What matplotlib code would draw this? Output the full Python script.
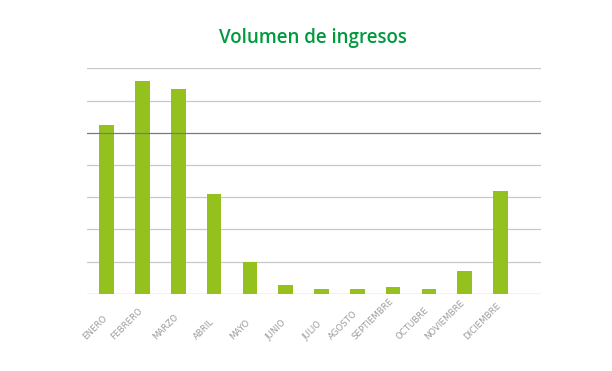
import matplotlib
matplotlib.use("Agg")
import matplotlib.pyplot as plt
import matplotlib.transforms as mtransforms

months = ["ENERO", "FEBRERO", "MARZO", "ABRIL", "MAYO", "JUNIO", "JULIO",
          "AGOSTO", "SEPTIEMBRE", "OCTUBRE", "NOVIEMBRE", "DICIEMBRE"]
values = [5.23, 6.60, 6.36, 3.10, 0.975, 0.28, 0.146, 0.146, 0.21, 0.146, 0.70, 3.18]
grid_levels = [1, 2, 3, 4, 6, 7]
ref_level = 5
title = "Volumen de ingresos"

fig = plt.figure(figsize=(6.12, 3.71), dpi=100)
W, H = 612, 371
ax_l, ax_r, ax_t, ax_b = 87, 541, 68.3, 293.7
ax = fig.add_axes([ax_l / W, 1 - ax_b / H, (ax_r - ax_l) / W, (ax_b - ax_t) / H])

x = list(range(len(months)))
ax.bar(x, values, width=0.41, color="#95c11f", zorder=2)

for g in grid_levels:
    ax.axhline(g, color="#c8c8c8", lw=0.9, zorder=1)
ax.axhline(ref_level, color="#7a7a7a", lw=0.9, zorder=3)
ax.axhline(0, color="#a0a0a0", lw=0.9, zorder=3)

ax.set_ylim(0, 7)
ax.set_xlim(-0.55, 12.13)
for s in ax.spines.values():
    s.set_visible(False)
ax.set_xticks([])
ax.set_yticks([])

trans = mtransforms.blended_transform_factory(ax.transData, ax.transAxes)
offset = mtransforms.ScaledTranslation(2 / 100, 0, fig.dpi_scale_trans)
ybot = -(341.7 - ax_b) / (ax_b - ax_t)
for xi, m in zip(x, months):
    ax.text(xi, ybot, m, rotation=45, ha="right", va="bottom",
            transform=trans + offset, fontsize=6.2, color="#9c9c9c",
            family="DejaVu Sans")

fig.text(313 / W, 1 - 38 / H, title, ha="center", va="center",
         fontsize=13.5, fontweight="semibold", color="#009a3e", family="Open Sans")

fig.savefig("out.png", dpi=100)
